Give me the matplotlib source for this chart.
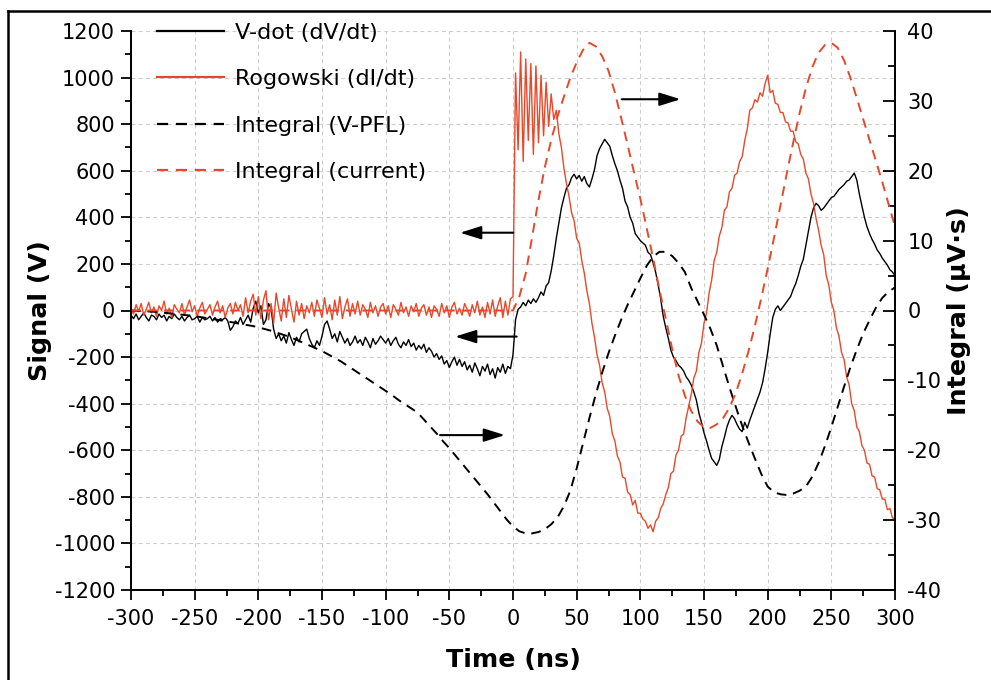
import numpy as np
import matplotlib
matplotlib.use("Agg")
import matplotlib.pyplot as plt
from matplotlib.lines import Line2D
from matplotlib.ticker import MultipleLocator

plt.rcParams['font.family'] = ['DejaVu Sans']
plt.rcParams['axes.unicode_minus'] = False

# ---------------- data ----------------
# Scope traces sampled every 2 ns
trace_time_ns = np.arange(-300, 302, 2)

rogowski_V = [
    10, -15, 25, -5, 30, -20, 5, 35, -10, 15,
    -25, 20, 0, 40, -15, 10, -30, 25, 5, -10,
    30, -20, 15, 45, -5, 20, -25, 10, 35, -15,
    5, 25, -20, 15, 40, -10, 20, -30, 10, 30,
    -15, 35, 0, 25, -25, 55, -10, 40, 70, -20,
    60, -35, 45, 85, -40, 30, -55, 75, 10, -45,
    50, -30, 65, 5, -50, 40, -20, 30, -35, 20,
    -10, 35, -25, 45, 10, -30, 55, -15, 25, -40,
    45, -20, 60, -35, 15, 50, -25, 30, -15, 40,
    -20, 25, 5, -30, 35, -10, 20, -25, 15, 30,
    -15, 20, -30, 25, 5, -20, 35, -10, 15, -25,
    20, -5, 30, -25, 10, 25, -20, 15, -30, 20,
    5, -25, 30, -10, 20, -30, 15, 35, -15, 10,
    -20, 30, 5, -25, 25, -10, 40, -20, 15, -30,
    35, -15, 45, -25, 20, 55, -30, 40, -20, 50,
    60, 1020, 690, 1110, 640, 1080, 730, 1060, 670, 1050,
    720, 1010, 750, 980, 790, 930, 820, 860, 760, 700,
    610, 545, 490, 420, 385, 310, 290, 215, 160, 85,
    30, -55, -115, -190, -235, -310, -350, -420, -455, -530,
    -560, -625, -650, -715, -720, -780, -790, -835, -815, -870,
    -870, -895, -905, -935, -920, -950, -905, -890, -850, -830,
    -790, -760, -700, -690, -620, -600, -540, -530, -460, -410,
    -360, -290, -260, -180, -140, -55, -10, 75, 130, 215,
    250, 320, 355, 430, 445, 510, 525, 580, 590, 640,
    660, 730, 780, 860, 870, 905, 895, 935, 920, 975,
    1010, 935, 945, 890, 885, 850, 850, 810, 805, 770,
    770, 725, 715, 670, 650, 590, 565, 500, 460, 395,
    345, 280, 240, 150, 110, 35, 0, -75, -110, -180,
    -210, -285, -320, -400, -430, -500, -520, -580, -600, -655,
    -660, -710, -715, -765, -770, -810, -810, -855, -850, -890,
    -895,
]

vdot_V = [
    -20, -35, -15, -40, -25, -10, -30, -45, -20, -25,
    -40, -15, -30, -20, -45, -25, -35, -15, -30, -40,
    -25, -45, -30, -20, -40, -35, -25, -50, -30, -40,
    -35, -25, -45, -30, -50, -35, -40, -30, -45, -85,
    -70, -45, -55, -30, -60, -40, -20, -50, 10, 40,
    -10, 20, -60, -40, 30, 10, -80, -120, -100, -130,
    -110, -140, -95, -125, -150, -115, -135, -100, -90, -80,
    -120, -145, -160, -130, -150, -110, -60, -45, -80, -120,
    -100, -135, -90, -115, -140, -120, -150, -135, -110, -140,
    -125, -150, -115, -135, -160, -120, -145, -130, -110, -125,
    -140, -120, -150, -130, -115, -145, -160, -135, -150, -125,
    -155, -140, -170, -150, -165, -145, -180, -160, -175, -200,
    -185, -210, -195, -230, -215, -245, -220, -200, -235, -210,
    -240, -220, -255, -235, -265, -225, -250, -280, -240, -260,
    -230, -275, -250, -290, -245, -265, -230, -270, -240, -250,
    -190, -40, 5, 15, 35, 20, 45, 30, 50, 35,
    55, 80, 65, 105, 120, 170, 235, 310, 375, 440,
    485, 525, 540, 570, 585, 565, 580, 555, 575, 545,
    530, 565, 605, 665, 695, 715, 735, 720, 705, 665,
    630, 600, 560, 525, 470, 445, 400, 375, 330, 315,
    300, 290, 280, 250, 240, 205, 165, 110, 50, -25,
    -75, -120, -170, -200, -215, -235, -245, -260, -285, -300,
    -320, -350, -385, -440, -480, -525, -560, -600, -635, -650,
    -665, -640, -585, -545, -500, -470, -450, -465, -490, -510,
    -520, -480, -505, -470, -440, -410, -380, -350, -310, -250,
    -180, -100, -30, 5, 20, 0, 15, 30, 45, 60,
    90, 115, 150, 190, 220, 280, 340, 400, 440, 460,
    450, 430, 440, 455, 470, 485, 490, 505, 520, 530,
    540, 555, 560, 575, 590, 560, 500, 450, 400, 360,
    330, 305, 285, 260, 245, 225, 210, 195, 175, 165,
    150,
]

# Integrated signals sampled every 5 ns
integral_time_ns = np.arange(-300, 305, 5)

integral_current_uVs = [
    0.0, 0.0, 0.0, 0.0, 0.0, 0.0, 0.0, 0.0, 0.0, 0.0,
    0.0, 0.0, 0.0, 0.0, 0.0, 0.0, 0.0, 0.0, 0.0, 0.0,
    0.0, 0.0, 0.0, 0.0, 0.0, 0.0, 0.0, 0.0, 0.0, 0.0,
    0.0, 0.0, 0.0, 0.0, 0.0, 0.0, 0.0, 0.0, 0.0, 0.0,
    0.0, 0.0, 0.0, 0.0, 0.0, 0.0, 0.0, 0.0, 0.0, 0.0,
    0.0, 0.0, 0.0, 0.0, 0.0, 0.0, 0.0, 0.0, 0.0, 0.0,
    0.0, 2.0, 5.3, 10.5, 15.8, 20.5, 24.4, 27.8, 30.6, 33.3,
    35.5, 37.3, 38.3, 37.8, 36.4, 34.3, 31.2, 27.5, 23.7, 19.8,
    16.0, 11.8, 7.5, 3.0, -1.2, -5.5, -9.3, -12.2, -14.4, -15.9,
    -16.7, -16.8, -16.3, -15.4, -13.9, -11.8, -9.0, -5.8, -2.2, 1.8,
    6.0, 10.4, 15.0, 19.6, 24.0, 28.2, 31.8, 34.8, 36.9, 38.0,
    38.3, 37.6, 35.8, 33.3, 30.4, 27.4, 24.4, 21.4, 18.4, 15.2,
    12.0,
]

integral_vpfl_uVs = [
    0.0, -0.05, -0.1, -0.15, -0.2, -0.3, -0.4, -0.5, -0.6, -0.7,
    -0.8, -0.95, -1.1, -1.25, -1.4, -1.55, -1.7, -1.9, -2.05, -2.2,
    -2.4, -2.65, -2.9, -3.2, -3.5, -3.8, -4.2, -4.6, -5.0, -5.4,
    -5.8, -6.3, -6.8, -7.3, -7.9, -8.5, -9.1, -9.7, -10.3, -10.9,
    -11.5, -12.1, -12.8, -13.4, -14.0, -14.6, -15.6, -16.6, -17.6, -18.7,
    -19.7, -20.8, -21.9, -23.0, -24.1, -25.2, -26.3, -27.5, -28.7, -29.9,
    -30.9, -31.6, -31.9, -31.9, -31.7, -31.3, -30.6, -29.6, -28.0, -25.8,
    -22.6, -19.0, -15.4, -12.0, -8.9, -6.1, -3.6, -1.3, 0.8, 2.7,
    4.6, 6.4, 7.7, 8.4, 8.4, 7.8, 6.8, 5.5, 3.2, 1.3,
    -0.6, -2.6, -5.0, -8.0, -11.0, -13.8, -16.5, -18.9, -21.2, -23.4,
    -25.2, -26.0, -26.3, -26.4, -26.2, -25.8, -25.2, -23.8, -21.8, -19.4,
    -16.7, -13.8, -10.9, -8.1, -5.6, -3.3, -1.4, 0.4, 1.8, 2.7,
    3.3,
]

series_labels = ["V-dot (dV/dt)", "Rogowski (dI/dt)",
                 "Integral (V-PFL)", "Integral (current)"]

# ---------------- styling ----------------
RED = "#e8482a"
TICK_FS = 15
LABEL_FS = 18.3

fig = plt.figure(figsize=(9.91, 6.8), dpi=100)
ax = fig.add_axes([131 / 991, 1 - 590 / 680, (895 - 131) / 991, (590 - 31) / 680])
ax2 = ax.twinx()

# grid
ax.grid(True, which='major', color='#cccccc', linestyle=(0, (3.5, 3)), linewidth=0.8)
ax.set_axisbelow(True)

# traces (left axis)
l_vdot, = ax.plot(trace_time_ns, vdot_V, color='black', lw=1.0, zorder=3)
l_rog, = ax.plot(trace_time_ns, rogowski_V, color=RED, lw=1.0, zorder=4)

# integrals (right axis)
l_ivp, = ax2.plot(integral_time_ns, integral_vpfl_uVs, color='black', lw=1.4,
                  dashes=(5, 3.5))
l_icur, = ax2.plot(integral_time_ns, integral_current_uVs, color=RED, lw=1.4,
                   dashes=(5, 3.5))

ax.set_xlim(-300, 300)
ax.set_ylim(-1200, 1200)
ax2.set_ylim(-40, 40)

ax.xaxis.set_major_locator(MultipleLocator(50))
ax.xaxis.set_minor_locator(MultipleLocator(25))
ax.yaxis.set_major_locator(MultipleLocator(200))
ax.yaxis.set_minor_locator(MultipleLocator(100))
ax2.yaxis.set_major_locator(MultipleLocator(10))
ax2.yaxis.set_minor_locator(MultipleLocator(5))

for a in (ax, ax2):
    for s in a.spines.values():
        s.set_linewidth(1.3)
    a.spines['top'].set_visible(False)

ax.tick_params(axis='both', which='major', direction='out', length=7.5, width=1.3,
               labelsize=TICK_FS, pad=4)
ax.tick_params(axis='x', which='major', pad=6)
ax.tick_params(axis='both', which='minor', direction='out', length=4, width=1.3)
ax2.tick_params(axis='y', which='major', direction='in', length=8.5, width=1.3,
                labelsize=TICK_FS, pad=9)
ax2.tick_params(axis='y', which='minor', direction='in', length=5, width=1.3)

ax.set_xlabel("Time (ns)", fontsize=LABEL_FS, fontweight='bold', labelpad=14)
ax.set_ylabel("Signal (V)", fontsize=LABEL_FS, fontweight='bold', labelpad=2)
ax2.set_ylabel("Integral (μV·s)", fontsize=LABEL_FS, fontweight='bold', labelpad=4)

# direction arrows showing which axis each curve belongs to
arrow_kw = dict(arrowstyle='-|>,head_length=0.8,head_width=0.25', color='black',
                lw=1.5, mutation_scale=16, shrinkA=0, shrinkB=0)
ax.annotate('', xy=(131.6, 907), xytext=(85.4, 907), arrowprops=arrow_kw, zorder=6)
ax.annotate('', xy=(-41.6, 334), xytext=(0.2, 334), arrowprops=arrow_kw, zorder=6)
ax.annotate('', xy=(-45.5, -112), xytext=(2.9, -112), arrowprops=arrow_kw, zorder=6)
ax.annotate('', xy=(-6.3, -535), xytext=(-57.3, -535), arrowprops=arrow_kw, zorder=6)

leg = ax.legend([l_vdot, l_rog, l_ivp, l_icur], series_labels, loc='upper left',
                bbox_to_anchor=(0.034, 1.015), frameon=False, fontsize=16,
                handlelength=3.0, handletextpad=0.5, labelspacing=1.19,
                borderpad=0, borderaxespad=0)
for h in leg.legend_handles:
    h.set_linewidth(1.6)

# outer frame (left and top edges)
fig.add_artist(Line2D([8 / 991, 8 / 991], [0, 1 - 11 / 680], transform=fig.transFigure,
                      color='black', lw=1.8))
fig.add_artist(Line2D([8 / 991, 1], [1 - 11 / 680, 1 - 11 / 680], transform=fig.transFigure,
                      color='black', lw=1.8))

fig.savefig("out.png", dpi=100)
